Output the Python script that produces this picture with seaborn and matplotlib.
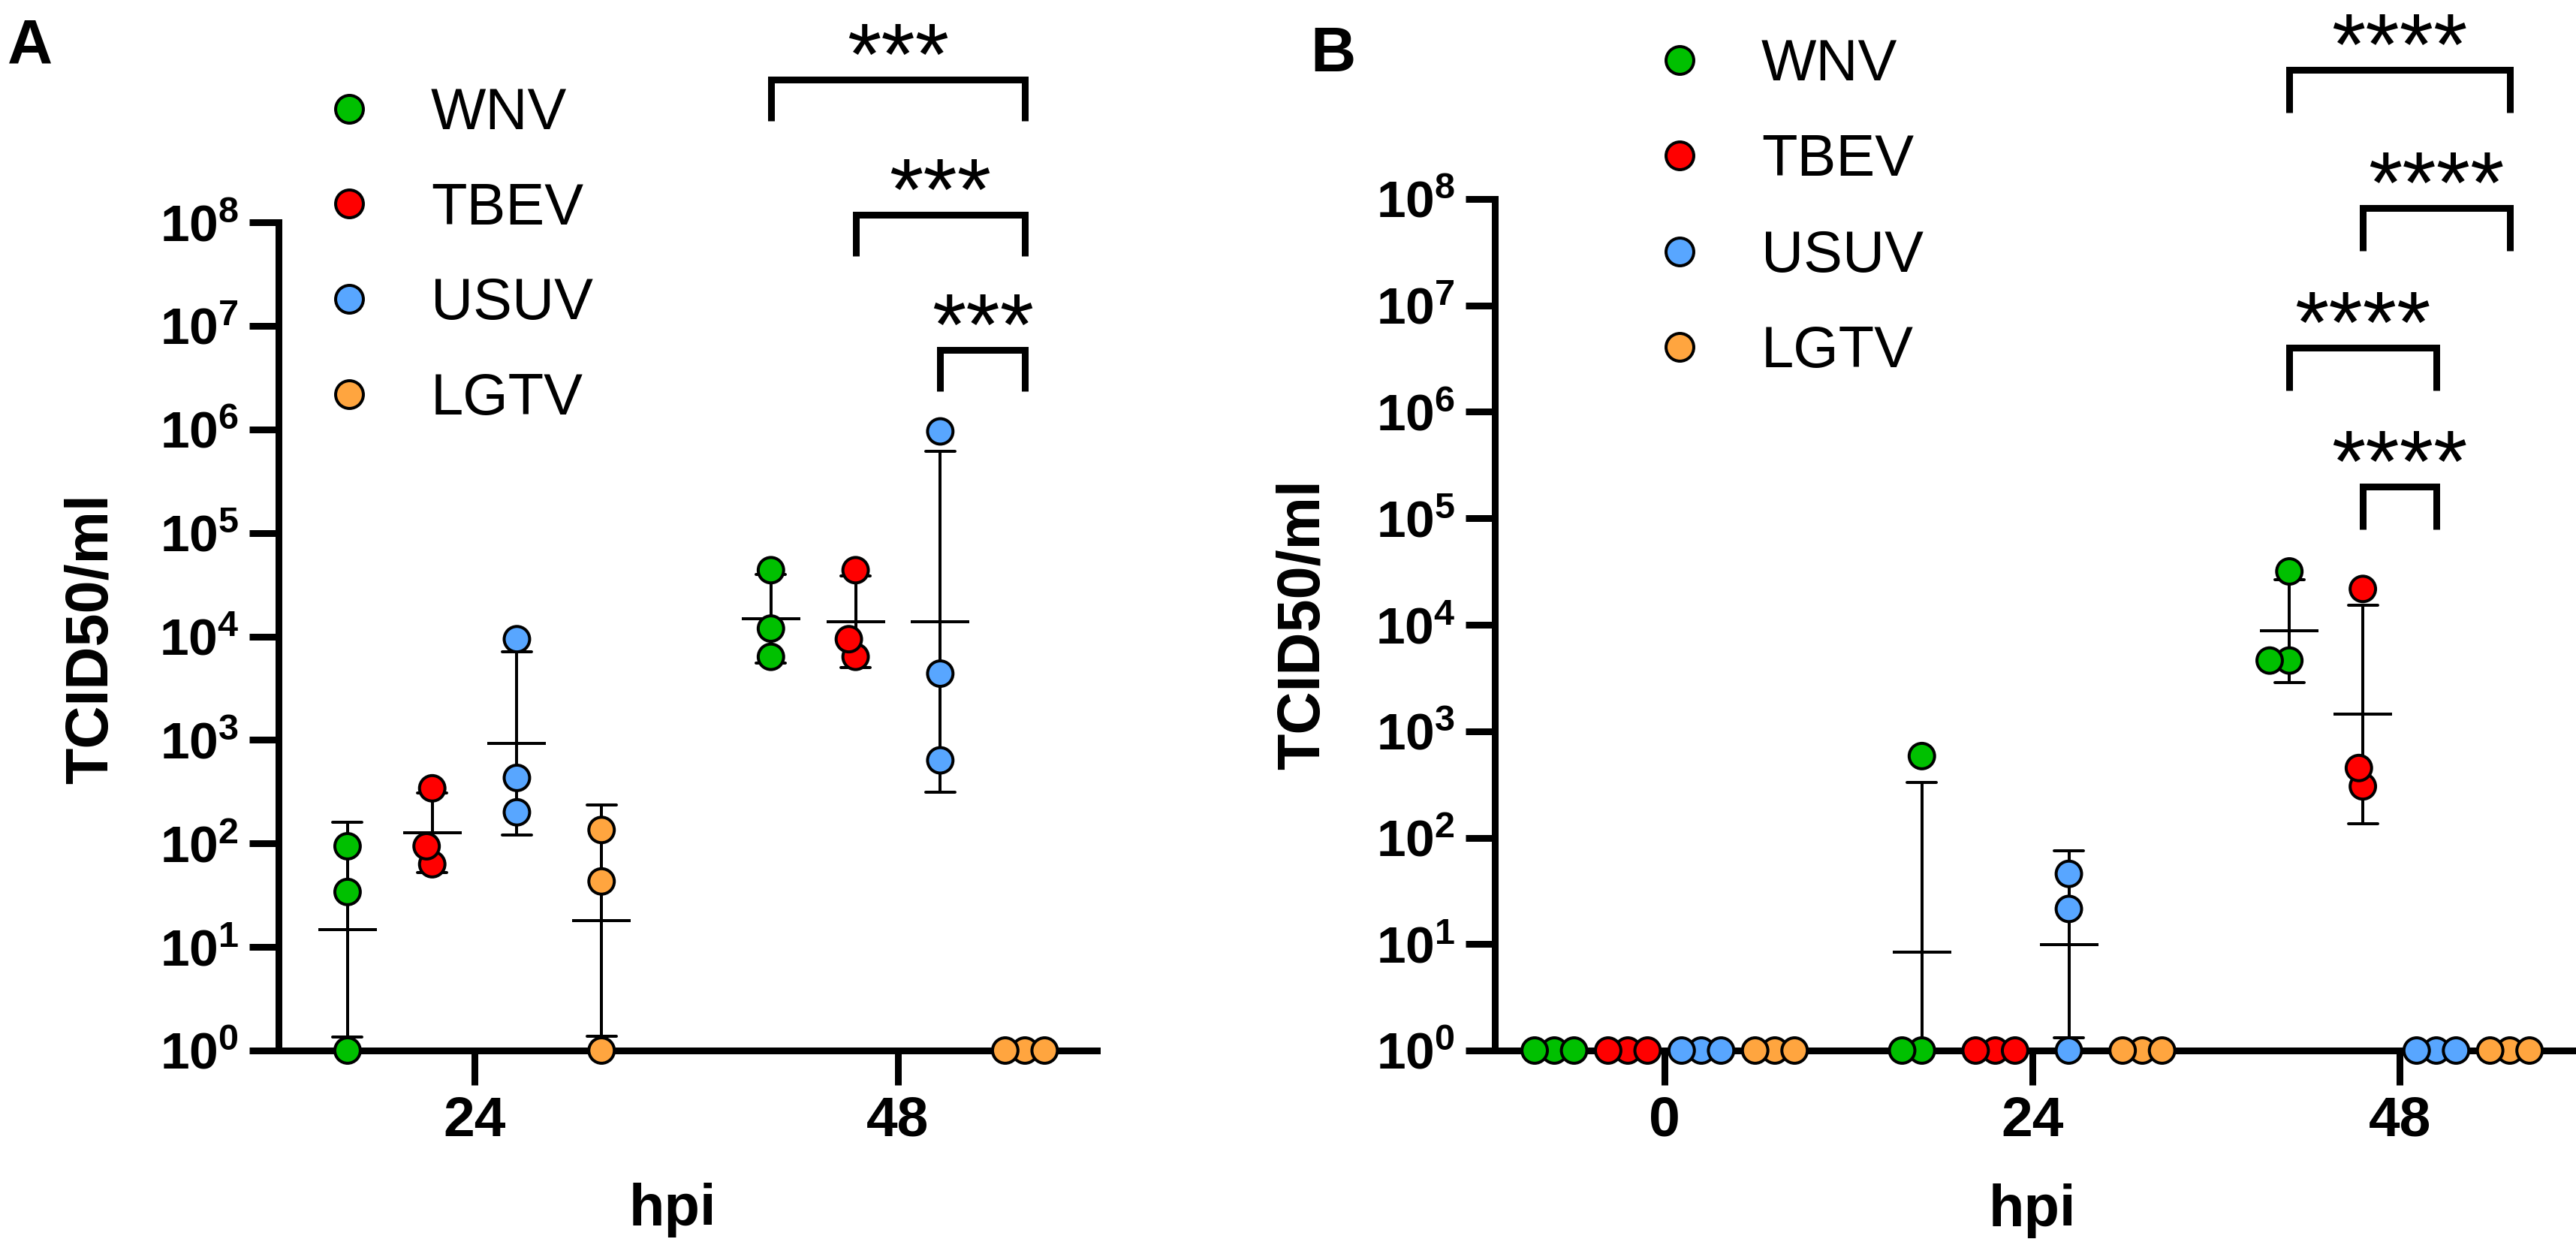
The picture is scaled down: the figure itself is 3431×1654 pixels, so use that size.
import numpy as np
import pandas as pd
import matplotlib
matplotlib.use('Agg')
import matplotlib.pyplot as plt
from matplotlib.lines import Line2D
from matplotlib.ticker import FuncFormatter, NullLocator
import seaborn as sns

# --- dados (TCID50/ml, tres replicatas por virus e tempo) ---
viruses = ['WNV', 'TBEV', 'USUV', 'LGTV']
colors = ['#00C000', '#FF0000', '#58A6FF', '#FFA53F']

hpi_a = ['24', '48']
wnv_a = [[1, 34, 94], [43600, 11900, 6350]]
tbev_a = [[341, 63, 94], [43600, 6350, 9400]]
usuv_a = [[9400, 430, 200], [955000, 4370, 635]]
lgtv_a = [[135, 43, 1], [1, 1, 1]]

hpi_b = ['0', '24', '48']
wnv_b = [[1, 1, 1], [584, 1, 1], [31700, 4610, 4610]]
tbev_b = [[1, 1, 1], [1, 1, 1], [21700, 303, 451]]
usuv_b = [[1, 1, 1], [45.7, 21.4, 1], [1, 1, 1]]
lgtv_b = [[1, 1, 1], [1, 1, 1], [1, 1, 1]]

# comparacoes: (virus esquerdo, virus direito, texto)
stars_a = [('WNV', 'LGTV', '***'), ('TBEV', 'LGTV', '***'), ('USUV', 'LGTV', '***')]
stars_b = [('WNV', 'LGTV', '****'), ('TBEV', 'LGTV', '****'),
           ('WNV', 'USUV', '****'), ('TBEV', 'USUV', '****')]


def long_table(hpi, series):
    rows = []
    for virus, values in zip(viruses, series):
        for h, reps in zip(hpi, values):
            for v in reps:
                rows.append({'hpi': h, 'virus': virus, 'titer': v})
    return pd.DataFrame(rows)


df_a = long_table(hpi_a, [wnv_a, tbev_a, usuv_a, lgtv_a])
df_b = long_table(hpi_b, [wnv_b, tbev_b, usuv_b, lgtv_b])

# --- estilo ---
sns.set_theme(style='ticks', rc={
    'axes.edgecolor': 'black', 'xtick.color': 'black', 'ytick.color': 'black',
    'text.color': 'black', 'axes.labelcolor': 'black', 'axes.linewidth': 3.24,
})
plt.rcParams['font.family'] = ['Liberation Sans', 'DejaVu Sans']
plt.rcParams['font.weight'] = 'bold'
plt.rcParams['mathtext.fontset'] = 'custom'
plt.rcParams['mathtext.bf'] = 'Liberation Sans:bold'
plt.rcParams['mathtext.rm'] = 'Liberation Sans:bold'

W, H = 3431, 1654
fig = plt.figure(figsize=(W / 200, H / 200), dpi=200)
ax_a = fig.add_axes([371 / W, 1 - 1399 / H, 1090 / W, 1103 / H])
ax_b = fig.add_axes([1991 / W, 1 - 1399 / H, 1440 / W, 1134 / H])

LAYOUT_SIZE = 9.0    # tamanho usado so para arranjar o swarm (pontos se sobrepoem como no GraphPad)
POINT_SIZE = 12.2
EDGE = 1.44


def draw_panel(ax, df, order, xlim, capsize):
    # media geometrica +- DP geometrico (a agregacao e feita na escala log)
    sns.pointplot(data=df, x='hpi', y='titer', hue='virus', order=order, hue_order=viruses,
                  palette=dict.fromkeys(viruses, 'black'), estimator='mean', errorbar='sd',
                  dodge=0.6, linestyles='none', markers='_', markersize=28,
                  markeredgewidth=EDGE, capsize=capsize,
                  err_kws={'linewidth': EDGE, 'linestyle': '-'},
                  log_scale=True, legend=False, ax=ax)
    n0 = len(ax.collections)
    sns.swarmplot(data=df, x='hpi', y='titer', hue='virus', order=order, hue_order=viruses,
                  palette=colors, dodge=True, size=LAYOUT_SIZE, linewidth=0,
                  log_scale=True, legend=False, ax=ax, zorder=5, clip_on=False)
    ax.set_xlim(*xlim)
    ax.set_ylim(1, 1e8)
    ax.set_yticks([10 ** k for k in range(9)])
    ax.yaxis.set_major_formatter(FuncFormatter(lambda v, pos: r'$\mathbf{10^{%d}}$' % round(np.log10(v))))
    ax.yaxis.set_minor_locator(NullLocator())
    sns.despine(ax=ax)
    for side in ['left', 'bottom']:
        ax.spines[side].set_capstyle('projecting')
    ax.tick_params(axis='y', length=14, width=3.24, pad=5, labelsize=25)
    ax.tick_params(axis='x', length=16.5, width=3.24, pad=5, labelsize=27)
    return ax.collections[n0:]


def add_brackets(ax, cat_idx, comps, tops, leg=0.4):
    for (left, right, label), top in zip(comps, tops):
        x1 = cat_idx - 0.3 + 0.2 * viruses.index(left)
        x2 = cat_idx - 0.3 + 0.2 * viruses.index(right)
        ax.plot([x1, x1, x2, x2], [10 ** (top - leg), 10 ** top, 10 ** top, 10 ** (top - leg)],
                color='black', lw=3.24, clip_on=False,
                solid_joinstyle='miter', solid_capstyle='butt')
        ax.text((x1 + x2) / 2, 10 ** (top - 0.05), label, ha='center', va='baseline',
                fontsize=42, fontweight='normal', clip_on=False)


def add_legend(ax, x, y, spacing):
    handles = [Line2D([], [], linestyle='none', marker='o', markersize=13.3,
                      markerfacecolor=c, markeredgecolor='black', markeredgewidth=EDGE)
               for c in colors]
    ax.legend(handles, viruses, loc='upper left', bbox_to_anchor=(x, y),
              bbox_transform=fig.transFigure, frameon=False,
              prop={'size': 28, 'weight': 'normal'}, handlelength=1.0,
              handletextpad=0.9, labelspacing=spacing, borderpad=0, borderaxespad=0)


# --- painel A ---
swarm_a = draw_panel(ax_a, df_a, hpi_a, (-0.463, 1.47), 0.069)
add_brackets(ax_a, 1, stars_a, [9.376, 8.071, 6.766])
add_legend(ax_a, 426 / W, 1 - 115 / H, 0.69)
ax_a.set_ylabel('TCID50/ml', fontsize=28.5, fontweight='bold', va='center')
ax_a.set_xlabel('hpi', fontsize=28, fontweight='bold', va='center')
ax_a.yaxis.set_label_coords(-0.2284, 0.497)
ax_a.xaxis.set_label_coords(0.4817, -0.193)

# --- painel B ---
swarm_b = draw_panel(ax_b, df_b, hpi_b, (-0.462, 2.48), 0.08)
add_brackets(ax_b, 2, stars_b, [9.213, 7.915, 6.603, 5.298])
add_legend(ax_b, 2198 / W, 1 - 50 / H, 0.70)
ax_b.set_ylabel('TCID50/ml', fontsize=28.5, fontweight='bold', va='center')
ax_b.set_xlabel('hpi', fontsize=28, fontweight='bold', va='center')
ax_b.yaxis.set_label_coords(-0.177, 0.5)
ax_b.xaxis.set_label_coords(0.497, -0.1887)

fig.text(40 / W, 1 - 62 / H, 'A', fontsize=30, fontweight='bold', ha='center', va='center')
fig.text(1776 / W, 1 - 73 / H, 'B', fontsize=30, fontweight='bold', ha='center', va='center')

# primeiro desenho: o seaborn arranja o swarm; depois congelamos as posicoes
# e aumentamos os marcadores para o tamanho final
fig.canvas.draw()
for coll in list(swarm_a) + list(swarm_b):
    if 'draw' in coll.__dict__:
        del coll.draw
    coll.set_sizes([POINT_SIZE ** 2])
    coll.set_linewidth(EDGE)
    coll.set_edgecolor('black')

fig.savefig('out.png', dpi=200)
